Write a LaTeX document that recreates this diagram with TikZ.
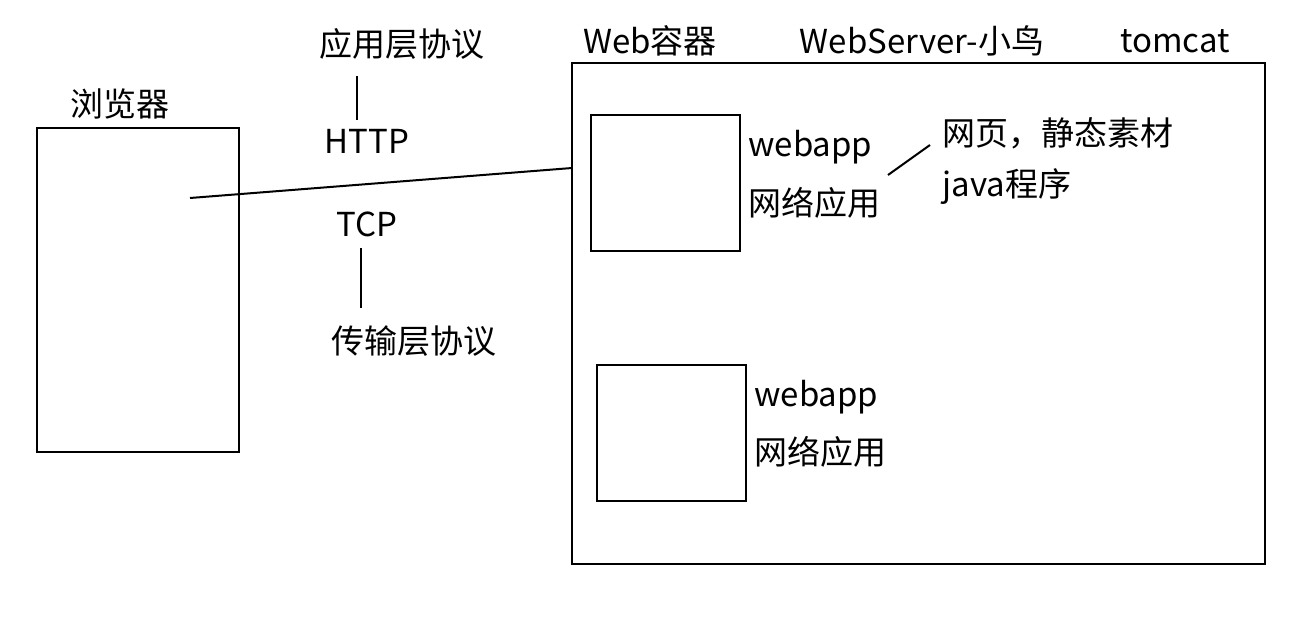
\documentclass[tikz,border=0pt]{standalone}
\usepackage{fontspec}
\setmainfont{Noto Sans CJK SC}
\begin{document}
\begin{tikzpicture}[x=0.5pt,y=-0.5pt,
  box/.style={draw=black,line width=1pt},
  lbl/.style={font=\fontsize{16.5}{20}\selectfont,inner sep=0pt},
  lbll/.style={lbl,anchor=west},
  conn/.style={draw=black,line width=1pt}]
\useasboundingbox (0,0) rectangle (1304,636);
% boxes
\draw[box] (37,128) rectangle (239,452);
\draw[box] (572,63) rectangle (1265,564);
\draw[box] (591,115) rectangle (740,251);
\draw[box] (597,365) rectangle (746,501);
% labels
\node[lbl] (browser) at (120,104) {浏览器};
\node[lbl] (app) at (402,44) {应用层协议};
\node[lbl] (http) at (367,141) {HTTP};
\node[lbl] (tcp) at (367,224) {TCP};
\node[lbl] (trans) at (414,341) {传输层协议};
\node[lbl] (webc) at (650,41) {Web容器};
\node[lbl] (ws) at (922,41) {WebServer-小鸟};
\node[lbl] (tomcat) at (1175,41) {tomcat};
\node[lbll] (wa1) at (748,147) {webapp};
\node[lbll] (na1) at (748,203) {网络应用};
\node[lbll] (wy) at (942,133) {网页，静态素材};
\node[lbll] (jp) at (942,187) {java程序};
\node[lbll] (wa2) at (754,397) {webapp};
\node[lbll] (na2) at (754,452) {网络应用};
% connectors
\coordinate (c1) at (190,198);
\coordinate (c2) at (572,168);
\draw[conn] (c1) -- (c2);
\coordinate (v1a) at (357,76);
\coordinate (v1b) at (357,120);
\draw[conn] (v1a) -- (v1b);
\coordinate (v2a) at (361,248);
\coordinate (v2b) at (361,308);
\draw[conn] (v2a) -- (v2b);
\coordinate (d1) at (888,175);
\coordinate (d2) at (930,145);
\draw[conn] (d1) -- (d2);
\end{tikzpicture}
\end{document}
